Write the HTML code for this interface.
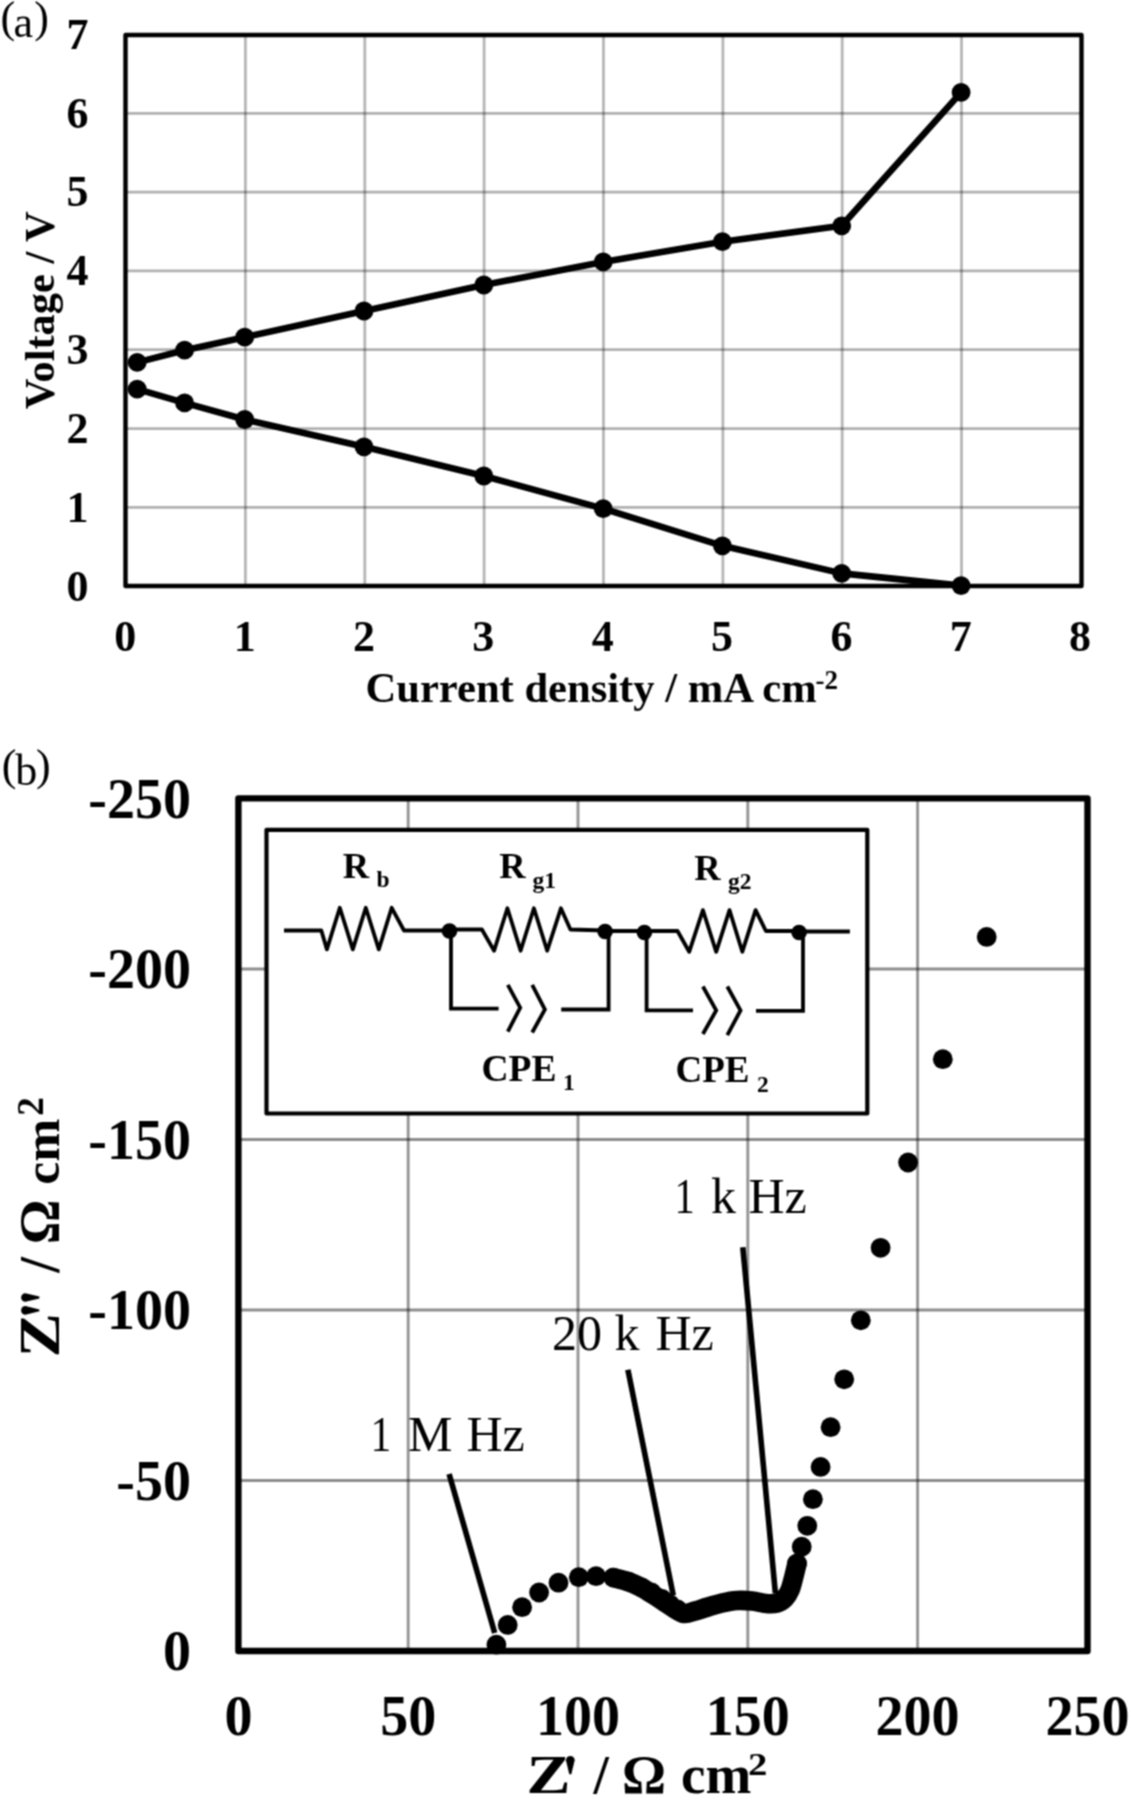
<!DOCTYPE html><html><head><meta charset="utf-8"><style>html,body{margin:0;padding:0;background:#fff;}svg{display:block} text{font-family:"Liberation Serif", serif;}</style></head><body>
<svg width="1131" height="1800" viewBox="0 0 1131 1800">
<defs><filter id="soft" color-interpolation-filters="sRGB" filterUnits="userSpaceOnUse" x="0" y="0" width="1131" height="1800"><feConvolveMatrix order="3" kernelMatrix="1 2 1 2 4 2 1 2 1" divisor="16" edgeMode="duplicate"/></filter></defs>
<g filter="url(#soft)">
<rect width="1131" height="1800" fill="#fff"/>
<path d="M245.4 35.0V586.0 M364.8 35.0V586.0 M484.1 35.0V586.0 M603.5 35.0V586.0 M722.9 35.0V586.0 M842.2 35.0V586.0 M961.5 35.0V586.0" stroke="#000" stroke-opacity="0.29" stroke-width="2.8" fill="none"/>
<path d="M125.5 507.4H1081.5 M125.5 428.6H1081.5 M125.5 349.7H1081.5 M125.5 270.9H1081.5 M125.5 192.1H1081.5 M125.5 113.3H1081.5" stroke="#000" stroke-opacity="0.31" stroke-width="2.8" fill="none"/>
<rect x="125.5" y="35.0" width="956.0" height="551.0" fill="none" stroke="#000" stroke-width="4.4" stroke-linejoin="round"/>
<path d="M137.2 362.4 L184.6 350.2 L244.7 337.2 L364 311 L483.8 285 L603.2 261.9 L722.4 241.7 L841.7 225.8 L961.1 92.4" stroke="#000" stroke-width="6.6" fill="none" stroke-linejoin="round"/>
<circle cx="137.2" cy="362.4" r="9.4" fill="#000"/>
<circle cx="184.6" cy="350.2" r="9.4" fill="#000"/>
<circle cx="244.7" cy="337.2" r="9.4" fill="#000"/>
<circle cx="364" cy="311" r="9.4" fill="#000"/>
<circle cx="483.8" cy="285" r="9.4" fill="#000"/>
<circle cx="603.2" cy="261.9" r="9.4" fill="#000"/>
<circle cx="722.4" cy="241.7" r="9.4" fill="#000"/>
<circle cx="841.7" cy="225.8" r="9.4" fill="#000"/>
<circle cx="961.1" cy="92.4" r="9.4" fill="#000"/>
<path d="M137.2 389.2 L184.6 402.9 L244.7 419.5 L364 446.8 L483.8 476 L603.2 508.6 L722.4 545.8 L841.7 573.4 L961.1 585.6" stroke="#000" stroke-width="6.6" fill="none" stroke-linejoin="round"/>
<circle cx="137.2" cy="389.2" r="9.4" fill="#000"/>
<circle cx="184.6" cy="402.9" r="9.4" fill="#000"/>
<circle cx="244.7" cy="419.5" r="9.4" fill="#000"/>
<circle cx="364" cy="446.8" r="9.4" fill="#000"/>
<circle cx="483.8" cy="476" r="9.4" fill="#000"/>
<circle cx="603.2" cy="508.6" r="9.4" fill="#000"/>
<circle cx="722.4" cy="545.8" r="9.4" fill="#000"/>
<circle cx="841.7" cy="573.4" r="9.4" fill="#000"/>
<circle cx="961.1" cy="585.6" r="9.4" fill="#000"/>
<text x="88.50" y="600.50" font-size="44" font-weight="bold" text-anchor="end">0</text>
<text x="88.50" y="521.68" font-size="44" font-weight="bold" text-anchor="end">1</text>
<text x="88.50" y="442.86" font-size="44" font-weight="bold" text-anchor="end">2</text>
<text x="88.50" y="364.04" font-size="44" font-weight="bold" text-anchor="end">3</text>
<text x="88.50" y="285.22" font-size="44" font-weight="bold" text-anchor="end">4</text>
<text x="88.50" y="206.40" font-size="44" font-weight="bold" text-anchor="end">5</text>
<text x="88.50" y="127.58" font-size="44" font-weight="bold" text-anchor="end">6</text>
<text x="88.50" y="48.76" font-size="44" font-weight="bold" text-anchor="end">7</text>
<text x="125.30" y="650.80" font-size="44" font-weight="bold" text-anchor="middle">0</text>
<text x="244.65" y="650.80" font-size="44" font-weight="bold" text-anchor="middle">1</text>
<text x="364.00" y="650.80" font-size="44" font-weight="bold" text-anchor="middle">2</text>
<text x="483.35" y="650.80" font-size="44" font-weight="bold" text-anchor="middle">3</text>
<text x="602.70" y="650.80" font-size="44" font-weight="bold" text-anchor="middle">4</text>
<text x="722.05" y="650.80" font-size="44" font-weight="bold" text-anchor="middle">5</text>
<text x="841.40" y="650.80" font-size="44" font-weight="bold" text-anchor="middle">6</text>
<text x="960.75" y="650.80" font-size="44" font-weight="bold" text-anchor="middle">7</text>
<text x="1080.10" y="650.80" font-size="44" font-weight="bold" text-anchor="middle">8</text>
<text transform="translate(54.3,310.3) rotate(-90)" font-size="42.4" font-weight="bold" text-anchor="middle">Voltage / V</text>
<text x="365.50" y="701.80" font-size="42.6" font-weight="bold">Current density / mA cm</text>
<text x="815.50" y="689.00" font-size="27" font-weight="bold">-2</text>
<text x="0.40" y="31.70" font-size="44">(</text>
<text x="13.60" y="36.60" font-size="44">a</text>
<text x="34.30" y="31.70" font-size="44">)</text>
<path d="M408.2 798.4V1651.0 M578.0 798.4V1651.0 M747.8 798.4V1651.0 M917.6 798.4V1651.0" stroke="#000" stroke-opacity="0.42" stroke-width="2.9" fill="none"/>
<path d="M238.4 1480.5H1087.5 M238.4 1310.0H1087.5 M238.4 1139.5H1087.5 M238.4 969.0H1087.5" stroke="#000" stroke-opacity="0.45" stroke-width="2.9" fill="none"/>
<line x1="449.1" y1="1474" x2="494.7" y2="1633" stroke="#000" stroke-width="5.6"/>
<line x1="627.9" y1="1369.8" x2="673.3" y2="1595.5" stroke="#000" stroke-width="5.6"/>
<line x1="742.8" y1="1247.2" x2="775.4" y2="1593.2" stroke="#000" stroke-width="5.6"/>
<path d="M613.4 1577.6 C615.9 1578.3 623.9 1580.0 628.6 1581.7 C633.3 1583.4 637.7 1585.5 641.6 1587.5 C645.5 1589.5 648.4 1591.8 652 1594 C655.6 1596.2 659.2 1598.5 663 1601 C666.8 1603.5 671.4 1606.9 675 1609 C678.6 1611.1 681.2 1613.2 684.5 1613.5 C687.8 1613.8 691.1 1612.1 695 1611 C698.9 1609.9 703.5 1608.3 708 1607 C712.5 1605.7 717.2 1604.1 722 1603 C726.8 1601.9 732.0 1600.8 737 1600.5 C742.0 1600.2 747.2 1600.5 752 1601 C756.8 1601.5 761.8 1603.2 766 1603.5 C770.2 1603.8 773.8 1603.9 777 1603 C780.2 1602.1 782.8 1600.2 785 1598 C787.2 1595.8 788.6 1593.3 790 1590 C791.4 1586.7 792.3 1582.4 793.5 1578 C794.7 1573.6 796.4 1566.0 797 1563.6" stroke="#000" stroke-width="19.6" fill="none" stroke-linejoin="round" stroke-linecap="round"/>
<circle cx="496.4" cy="1644.7" r="9.9" fill="#000"/>
<circle cx="507.7" cy="1624.9" r="9.9" fill="#000"/>
<circle cx="522.1" cy="1607.2" r="9.9" fill="#000"/>
<circle cx="539.1" cy="1592.5" r="9.9" fill="#000"/>
<circle cx="558.5" cy="1582.7" r="9.9" fill="#000"/>
<circle cx="578.8" cy="1577.2" r="9.9" fill="#000"/>
<circle cx="596.1" cy="1576.2" r="9.9" fill="#000"/>
<circle cx="613.4" cy="1577.6" r="9.9" fill="#000"/>
<circle cx="628.6" cy="1581.7" r="9.9" fill="#000"/>
<circle cx="641.6" cy="1587.5" r="9.9" fill="#000"/>
<circle cx="651.5" cy="1592.5" r="9.9" fill="#000"/>
<circle cx="662" cy="1599" r="9.9" fill="#000"/>
<circle cx="670" cy="1604.5" r="9.9" fill="#000"/>
<circle cx="677.5" cy="1609.5" r="9.9" fill="#000"/>
<circle cx="797" cy="1563.6" r="9.9" fill="#000"/>
<circle cx="801.7" cy="1546.7" r="9.9" fill="#000"/>
<circle cx="807.3" cy="1525.8" r="9.9" fill="#000"/>
<circle cx="812.9" cy="1499.2" r="9.9" fill="#000"/>
<circle cx="820.6" cy="1466.9" r="9.9" fill="#000"/>
<circle cx="830.6" cy="1427.2" r="9.9" fill="#000"/>
<circle cx="844.2" cy="1379.3" r="9.9" fill="#000"/>
<circle cx="860.8" cy="1320.3" r="9.9" fill="#000"/>
<circle cx="880.6" cy="1247.8" r="9.9" fill="#000"/>
<circle cx="908.1" cy="1162.5" r="9.9" fill="#000"/>
<circle cx="942.8" cy="1059.2" r="9.9" fill="#000"/>
<circle cx="986.7" cy="936.9" r="9.9" fill="#000"/>
<rect x="238.4" y="798.4" width="849.1" height="852.6" fill="none" stroke="#000" stroke-width="6.4" stroke-linejoin="round"/>
<rect x="266.5" y="829.8" width="600.8" height="283.7" fill="#fff" stroke="#000" stroke-width="4.2" stroke-linejoin="round"/>
<path d="M284 930.5 L321.3 930.5 L326.9 949.4 L339.8 907.8 L352.8 949.4 L365.8 907.8 L378.8 949.4 L391.7 907.8 L404 930.5 L449.5 930.5" stroke="#000" stroke-width="3.8" fill="none" stroke-linejoin="round"/>
<path d="M449.5 929.5 L481.9 929.5 L494.1 950.7 L507.4 908.3 L520.6 950.7 L533.9 908.3 L547.2 950.7 L560.9 908.3 L570.4 929.5 L605.1 930.5" stroke="#000" stroke-width="3.8" fill="none" stroke-linejoin="round"/>
<path d="M605.1 931 L644.4 931" stroke="#000" stroke-width="3.8" fill="none" stroke-linejoin="miter"/>
<path d="M644.4 931 L677.5 931 L689.2 951.8 L702.9 910.1 L716.2 951.8 L729.5 910.1 L742.3 951.8 L755.6 910.1 L765.9 931 L799.1 931" stroke="#000" stroke-width="3.8" fill="none" stroke-linejoin="round"/>
<path d="M799.1 931.5 L849.9 931.5" stroke="#000" stroke-width="3.8" fill="none" stroke-linejoin="miter"/>
<path d="M451 931 L451 1008.6 L498.6 1008.6" stroke="#000" stroke-width="3.8" fill="none" stroke-linejoin="miter"/>
<path d="M507.8 984.8 L520.2 1007.7 L507.8 1031.6" stroke="#000" stroke-width="3.8" fill="none" stroke-linejoin="miter"/>
<path d="M532.2 984.8 L544.9 1009.5 L532.2 1032.5" stroke="#000" stroke-width="3.8" fill="none" stroke-linejoin="miter"/>
<path d="M561.2 1009.5 L608.6 1009.5 L608.6 931" stroke="#000" stroke-width="3.8" fill="none" stroke-linejoin="miter"/>
<path d="M646.6 931 L646.6 1010.4 L693 1010.4" stroke="#000" stroke-width="3.8" fill="none" stroke-linejoin="miter"/>
<path d="M702.9 986.5 L716.2 1010.4 L702.9 1034" stroke="#000" stroke-width="3.8" fill="none" stroke-linejoin="miter"/>
<path d="M727.3 986.5 L740.5 1010.4 L727.3 1035.2" stroke="#000" stroke-width="3.8" fill="none" stroke-linejoin="miter"/>
<path d="M756 1010.8 L803 1010.8 L803 931" stroke="#000" stroke-width="3.8" fill="none" stroke-linejoin="miter"/>
<circle cx="449.5" cy="931" r="7.8" fill="#000"/>
<circle cx="605.1" cy="931.5" r="7.8" fill="#000"/>
<circle cx="644.4" cy="932.5" r="7.8" fill="#000"/>
<circle cx="799.1" cy="932.5" r="7.8" fill="#000"/>
<text x="342.80" y="878.30" font-size="36.5" font-weight="bold">R</text>
<text x="376.50" y="887.00" font-size="23.5" font-weight="bold">b</text>
<text x="499.20" y="877.80" font-size="36.5" font-weight="bold">R</text>
<text x="532.50" y="887.50" font-size="23.5" font-weight="bold">g1</text>
<text x="694.20" y="879.80" font-size="36.5" font-weight="bold">R</text>
<text x="728.00" y="888.50" font-size="23.5" font-weight="bold">g2</text>
<text x="481.50" y="1081.20" font-size="37.5" font-weight="bold">CPE</text>
<text x="563.00" y="1090.00" font-size="23.5" font-weight="bold">1</text>
<text x="675.50" y="1081.70" font-size="37" font-weight="bold">CPE</text>
<text x="757.00" y="1091.50" font-size="23.5" font-weight="bold">2</text>
<text x="369.50" y="1451.20" font-size="50" transform="translate(375,0) scale(0.83,1) translate(-375,0)">1</text>
<text x="408.00" y="1451.00" font-size="50">M</text>
<text x="466.50" y="1451.00" font-size="50">Hz</text>
<text x="552.00" y="1349.50" font-size="50">20 k</text>
<text x="655.50" y="1349.50" font-size="50">Hz</text>
<text x="673.50" y="1212.70" font-size="50" transform="translate(679,0) scale(0.81,1) translate(-679,0)">1</text>
<text x="711.00" y="1212.70" font-size="50">k Hz</text>
<text x="191.00" y="1670.00" font-size="56" font-weight="bold" text-anchor="end">0</text>
<text x="191.00" y="1499.50" font-size="56" font-weight="bold" text-anchor="end">-50</text>
<text x="191.00" y="1329.00" font-size="56" font-weight="bold" text-anchor="end">-100</text>
<text x="191.00" y="1158.50" font-size="56" font-weight="bold" text-anchor="end">-150</text>
<text x="191.00" y="988.00" font-size="56" font-weight="bold" text-anchor="end">-200</text>
<text x="191.00" y="817.50" font-size="56" font-weight="bold" text-anchor="end">-250</text>
<text x="238.40" y="1734.80" font-size="56" font-weight="bold" text-anchor="middle">0</text>
<text x="408.20" y="1734.80" font-size="56" font-weight="bold" text-anchor="middle">50</text>
<text x="578.00" y="1734.80" font-size="56" font-weight="bold" text-anchor="middle">100</text>
<text x="747.80" y="1734.80" font-size="56" font-weight="bold" text-anchor="middle">150</text>
<text x="917.60" y="1734.80" font-size="56" font-weight="bold" text-anchor="middle">200</text>
<text x="1087.40" y="1734.80" font-size="56" font-weight="bold" text-anchor="middle">250</text>
<g transform="translate(59.2,1354.3) rotate(-90)"><text x="-2.7" y="0" font-size="56" font-weight="bold" transform="scale(1.19,1)">Z</text><text x="81.5" y="0" font-size="56" font-weight="bold">/</text><text x="110" y="0" font-size="56" font-weight="bold">&#937;</text><text x="169.6" y="0" font-size="51.7" font-weight="bold">cm</text><text x="238.5" y="-16" font-size="37" font-weight="bold">2</text></g>
<g transform="translate(529,1793)"><text x="-2.1" y="0" font-size="55" font-weight="bold" transform="scale(1.2,1)">Z</text><text x="64.5" y="0" font-size="55" font-weight="bold">/</text><text x="93" y="0" font-size="55" font-weight="bold">&#937;</text><text x="152" y="0" font-size="55" font-weight="bold">cm</text><text x="219" y="-18.5" font-size="31" font-weight="bold" transform="translate(219,0) scale(1.25,1) translate(-219,0)">2</text></g>
<path d="M25.4 1293.2 A4.3 4.3 0 1 0 25.4 1301.8 L39.4 1298.4 L39.4 1296.6 Z" fill="#000"/>
<path d="M25.4 1306.1000000000001 A4.3 4.3 0 1 0 25.4 1314.7 L39.4 1311.3000000000002 L39.4 1309.5 Z" fill="#000"/>
<path d="M565.9 1760.3 A4.4 4.4 0 1 1 574.7 1760.3 L571.3 1774.2 L569.3 1774.2 Z" fill="#000"/>
<text x="1.70" y="779.50" font-size="44">(</text>
<text x="15.30" y="785.10" font-size="44">b</text>
<text x="35.90" y="779.50" font-size="44">)</text>
</g></svg></body></html>
